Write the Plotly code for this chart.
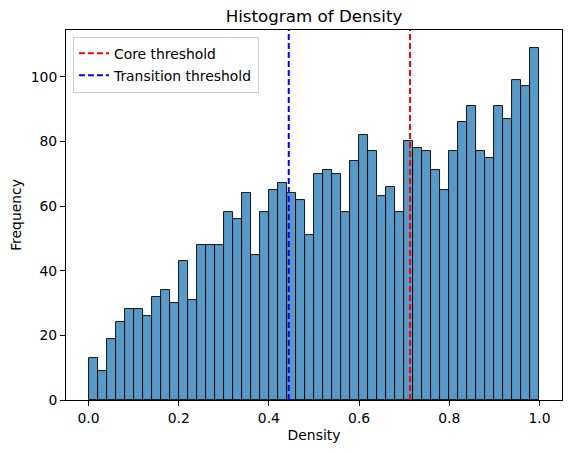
import numpy as np
import plotly.graph_objects as go

# Data
counts = [13, 9, 19, 24, 28, 28, 26, 32, 34, 30,
          43, 31, 48, 48, 48, 58, 56, 64, 45, 58,
          65, 67, 64, 62, 51, 70, 71, 70, 58, 74,
          82, 77, 63, 66, 58, 80, 78, 77, 71, 65,
          77, 86, 91, 77, 75, 91, 87, 99, 97, 109]
bin_start = 0.0
bin_end = 1.0
core_threshold = 0.713
transition_threshold = 0.444
xticks = [0.0, 0.2, 0.4, 0.6, 0.8, 1.0]
yticks = [0, 20, 40, 60, 80, 100]

n = len(counts)
edges = np.linspace(bin_start, bin_end, n + 1)
centers = (edges[:-1] + edges[1:]) / 2
width = edges[1] - edges[0]
ymax = max(counts) * 1.05

font = "DejaVu Sans"
fs = 13.9
fig = go.Figure()
fig.add_trace(go.Bar(
    x=centers, y=counts, width=width,
    marker=dict(color="rgba(31,119,180,0.75)", line=dict(color="black", width=0.9)),
    showlegend=False, hoverinfo="x+y"))
fig.add_trace(go.Scatter(
    x=[core_threshold, core_threshold], y=[0, ymax], mode="lines",
    line=dict(color="red", width=2, dash="6px,3px"), name="Core threshold",
    legendgroup="a"))
fig.add_trace(go.Scatter(
    x=[transition_threshold, transition_threshold], y=[0, ymax], mode="lines",
    line=dict(color="blue", width=2, dash="6px,3px"), name="Transition threshold",
    legendgroup="b"))

axis_common = dict(showline=True, linecolor="black", linewidth=1, mirror=True,
                   ticks="outside", ticklen=5, tickcolor="black", showgrid=False,
                   zeroline=False, tickfont=dict(family=font, size=fs, color="black"))
fig.update_layout(
    width=571, height=453,
    margin=dict(l=66, r=9, t=30, b=53),
    paper_bgcolor="white", plot_bgcolor="white",
    bargap=0,
    title=dict(text="Histogram of Density", x=(66 + 562) / 2 / 571, xanchor="center",
               y=1 - 16 / 453, yanchor="middle",
               font=dict(family=font, size=16.7, color="black")),
    xaxis=dict(range=[-0.05, 1.05], tickvals=xticks, tickformat=".1f",
               title=dict(text="Density", font=dict(family=font, size=fs, color="black"), standoff=5),
               **axis_common),
    yaxis=dict(range=[0, ymax], tickvals=yticks,
               title=dict(text="Frequency", font=dict(family=font, size=fs, color="black"), standoff=5),
               **axis_common),
    legend=dict(x=0.014, y=0.982, xanchor="left", yanchor="top",
                bgcolor="rgba(255,255,255,0.8)", bordercolor="#cccccc", borderwidth=1,
                font=dict(family=font, size=fs, color="black"), tracegroupgap=1,
                itemwidth=30),
    showlegend=True,
)
fig.write_html("out.html")
